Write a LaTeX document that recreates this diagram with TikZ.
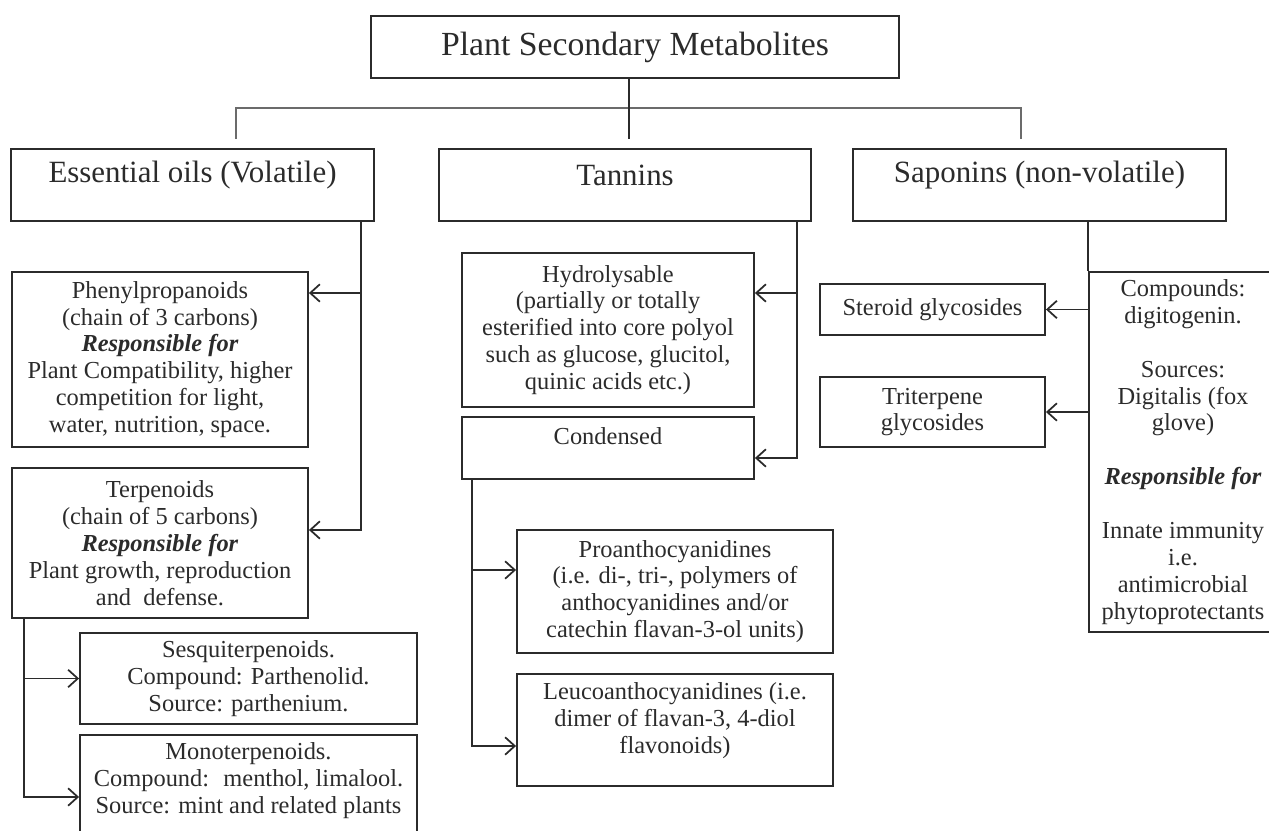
\documentclass[tikz,border=0pt]{standalone}
\usepackage{fontspec}
\setmainfont{Liberation Serif}
\usepackage{tikz}
\usetikzlibrary{arrows.meta, positioning}
\usepackage{xcolor}
\definecolor{inkgray}{gray}{0.17}
\definecolor{bargray}{gray}{0.42}

\tikzset{
  box/.style={draw=inkgray, line width=1.1pt, align=center, inner sep=1pt,
    text=inkgray, font=\fontsize{13.9}{15.3}\selectfont},
  headbox/.style={box, font=\fontsize{17.6}{20}\selectfont},
  lift/.style={text depth=#1},
  link/.style={draw=inkgray, line width=1pt},
  arr/.style={link, -{Straight Barb[length=5.5pt, width=10pt]}},
}
\newcommand{\resp}{\textbf{\textit{Responsible for}}}

\begin{document}
\begin{tikzpicture}[x=0.02cm, y=-0.02cm]
      \useasboundingbox (0,0) rectangle (1269,831);
      \clip (0,0) rectangle (1269,831);

      % Root
      \node[box, minimum width=10.56cm, minimum height=1.24cm,
        font=\fontsize{19.2}{22}\selectfont] (title) at (635,47) {Plant Secondary Metabolites};

      % Level 1
      \node[headbox, lift=15pt, minimum width=7.26cm, minimum height=1.44cm] (oils) at (192.5,185) {Essential oils (Volatile)};
      \node[headbox, lift=11pt, minimum width=7.44cm, minimum height=1.44cm] (tannins) at (625,185) {Tannins};
      \node[headbox, lift=15pt, minimum width=7.46cm, minimum height=1.44cm] (saponins) at (1039.5,185) {Saponins (non-volatile)};

      \coordinate (barL) at (236,108);
      \coordinate (barM) at (629,108);
      \coordinate (barR) at (1021,108);
      \coordinate (oilsdrop) at (236,139);
      \coordinate (tandrop) at (629,139);
      \coordinate (sapdrop) at (1021,139);
      \draw[draw=bargray, line width=1.3pt] (oilsdrop) -- (barL) -- (barR) -- (sapdrop);
      \draw[draw=inkgray, line width=1.7pt] (title.south -| barM) -- (tandrop);

      % Essential oils branch
      \node[box, minimum width=5.92cm, minimum height=3.5cm] (phenyl) at (160,359.5)
        {Phenylpropanoids\\(chain of 3 carbons)\\\resp\\Plant Compatibility, higher\\competition for light,\\water, nutrition, space.};
      \node[box, minimum width=5.92cm, minimum height=3cm] (terp) at (160,543)
        {Terpenoids\\(chain of 5 carbons)\\\resp\\Plant growth, reproduction\\and~ defense.};
      \node[box, minimum width=6.74cm, minimum height=1.82cm] (sesqui) at (248.5,678.5)
        {Sesquiterpenoids.\\Compound: Parthenolid.\\Source: parthenium.};
      \node[box, lift=11pt, minimum width=6.74cm, minimum height=2.1cm] (mono) at (248.5,787.5)
        {Monoterpenoids.\\Compound:~ menthol, limalool.\\Source: mint and related plants};

      \coordinate (oilsbus) at (361,530);
      \coordinate (phenyltap) at (361,293);
      \draw[arr] (oils.south -| oilsbus) -- (oilsbus) -- (oilsbus -| terp.east);
      \draw[arr] (phenyltap) -- (phenyltap -| phenyl.east);

      \coordinate (terpbus) at (24,797);
      \draw[arr] (terp.south -| terpbus) -- (terpbus) -- (terpbus -| mono.west);
      \draw[arr] (terpbus |- sesqui.west) -- (sesqui.west);

      % Tannins branch
      \node[box, minimum width=5.84cm, minimum height=3.08cm] (hydro) at (608,330)
        {Hydrolysable\\(partially or totally\\esterified into core polyol\\such as glucose, glucitol,\\quinic acids etc.)};
      \node[box, lift=13.5pt, minimum width=5.84cm, minimum height=1.24cm] (cond) at (608,448) {Condensed};
      \node[box, minimum width=6.32cm, minimum height=2.46cm] (proantho) at (675,591.5)
        {Proanthocyanidines\\(i.e. di-, tri-, polymers of\\anthocyanidines and/or\\catechin flavan-3-ol units)};
      \node[box, lift=14pt, minimum width=6.32cm, minimum height=2.24cm] (leuco) at (675,730)
        {Leucoanthocyanidines (i.e.\\dimer of flavan-3, 4-diol\\flavonoids)};

      \coordinate (tanbus) at (797,458);
      \coordinate (hydrotap) at (797,293);
      \draw[arr] (tannins.south -| tanbus) -- (tanbus) -- (tanbus -| cond.east);
      \draw[arr] (hydrotap) -- (hydrotap -| hydro.east);

      \coordinate (condbus) at (472,746);
      \coordinate (protap) at (472,570);
      \draw[arr] (cond.south -| condbus) -- (condbus) -- (condbus -| leuco.west);
      \draw[arr] (protap) -- (protap -| proantho.west);

      % Saponins branch
      \node[box, minimum width=4.5cm, minimum height=1.02cm] (steroid) at (932.5,309.5) {Steroid glycosides};
      \node[box, minimum width=4.5cm, minimum height=1.4cm] (triterp) at (932.5,412) {Triterpene\\glycosides};
      \node[box, minimum width=3.76cm, minimum height=7.2cm] (compounds) at (1183,452)
        {Compounds:\\digitogenin.\\[15.3pt]Sources:\\Digitalis (fox\\glove)\\[15.3pt]\resp\\[15.3pt]Innate immunity\\i.e.\\antimicrobial\\phytoprotectants};

      \draw[link] (saponins.south -| compounds.west) -- (compounds.north west);
      \draw[arr] (compounds.west |- steroid.east) -- (steroid.east);
      \draw[arr] (compounds.west |- triterp.east) -- (triterp.east);
\end{tikzpicture}
\end{document}
